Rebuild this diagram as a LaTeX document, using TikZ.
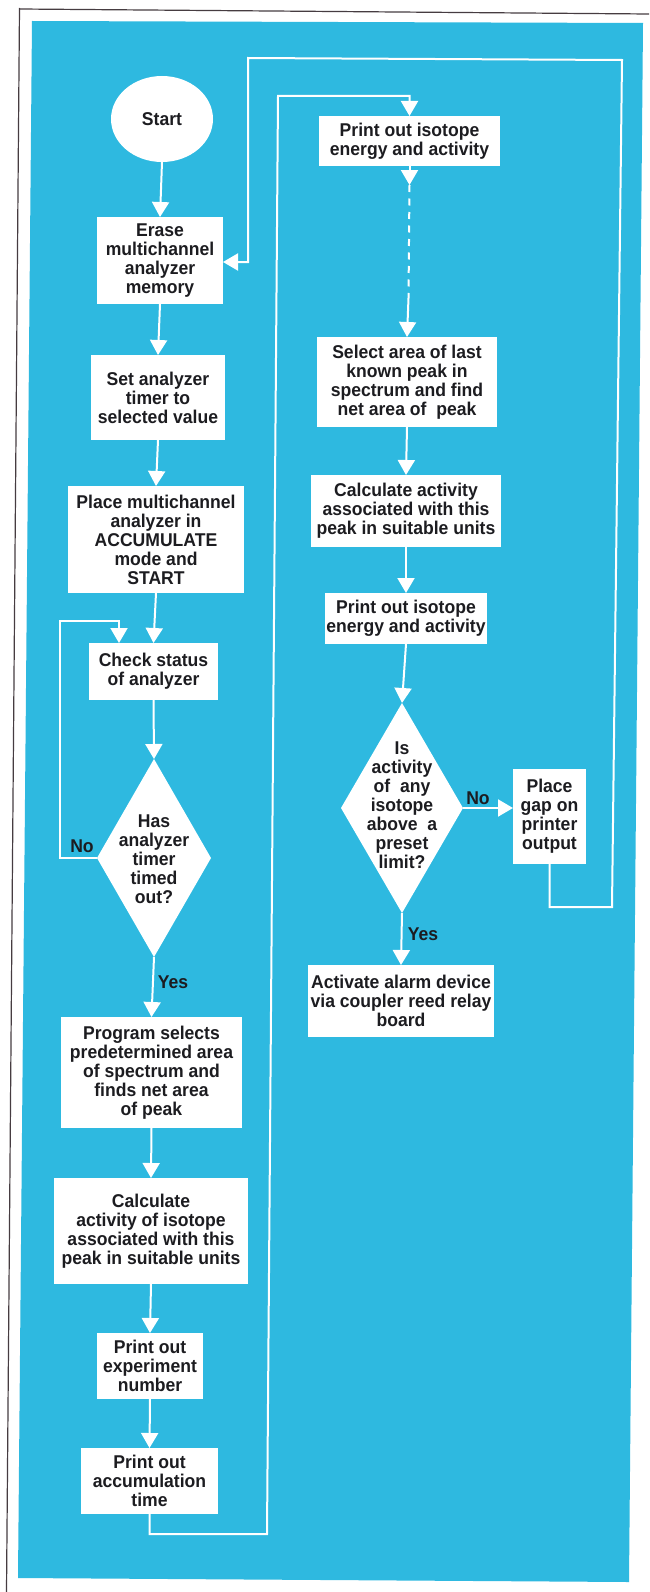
\documentclass[tikz,border=0pt]{standalone}
\usepackage{fontspec}
\setmainfont{Liberation Sans}[FakeStretch=0.95]
\usetikzlibrary{arrows.meta,shapes.geometric}
\definecolor{bg}{RGB}{46,185,224}
\definecolor{ink}{RGB}{28,28,32}
\definecolor{frame}{RGB}{70,60,65}
\newcommand{\dfont}{\bfseries\fontsize{18.5}{19}\selectfont}
\begin{document}
\begin{tikzpicture}[x=1pt,y=-1pt,
  box/.style={rectangle, fill=white, inner sep=0pt, outer sep=0pt, align=center, text=ink, font=\dfont},
  startnode/.style={ellipse, fill=white, inner sep=0pt, outer sep=0pt, text=ink, font=\dfont},
  decision/.style={diamond, fill=white, inner sep=0pt, outer sep=0pt},
  lab/.style={text=ink, font=\dfont, inner sep=0pt, align=center},
  conn/.style={draw=white, line width=2pt, -{Triangle[width=17pt,length=15pt]}},
  plain/.style={draw=white, line width=2pt}]
\useasboundingbox (0,0) rectangle (649,1592);
\fill[white] (0,0) rectangle (649,1592);
\fill[bg] (32,21) -- (643,23) -- (629,1582) -- (18,1578) -- cycle;
\draw[frame, line width=1.2pt] (19.5,9) -- (649,14);
\draw[frame, line width=1.2pt] (19.5,8) -- (6.5,1592);

% left column
\node[startnode, minimum width=102pt, minimum height=86pt] (start) at (162,119) {Start};
\node[box, minimum width=126pt, minimum height=87pt] (erase) at (160,260.5) {Erase\\multichannel\\analyzer\\memory};
\node[box, minimum width=134pt, minimum height=85pt] (set) at (158,397.5) {Set analyzer\\timer to\\selected value};
\node[box, minimum width=176pt, minimum height=107pt] (place) at (156,539.5) {Place multichannel\\analyzer in\\ACCUMULATE\\mode and\\START};
\node[box, minimum width=129pt, minimum height=57pt] (check) at (153.5,671.5) {Check status\\of analyzer};
\node[decision, minimum width=114pt, minimum height=198pt] (dia1) at (154,858) {};
\node[lab] (dia1t) at (154,859) {Has\\analyzer\\timer\\timed\\out?};
\node[box, minimum width=181pt, minimum height=111pt] (program) at (151.5,1072.5) {Program selects\\predetermined area\\of spectrum and\\finds net area\\of peak};
\node[box, minimum width=194pt, minimum height=106pt] (calc1) at (151,1231) {Calculate\\activity of isotope\\associated with this\\peak in suitable units};
\node[box, minimum width=106pt, minimum height=66pt] (exper) at (150,1366) {Print out\\experiment\\number};
\node[box, minimum width=137pt, minimum height=66pt] (accum) at (149.5,1481) {Print out\\accumulation\\time};

% right column
\node[box, minimum width=181pt, minimum height=50pt] (print1) at (409.5,141) {Print out isotope\\energy and activity};
\node[box, minimum width=180pt, minimum height=90pt] (select) at (407,382) {Select area of last\\known peak in\\spectrum and find\\net area of \ peak};
\node[box, minimum width=190pt, minimum height=72pt] (calc2) at (406,511) {Calculate activity\\associated with this\\peak in suitable units};
\node[box, minimum width=162pt, minimum height=51pt] (print2) at (406,618.5) {Print out isotope\\energy and activity};
\node[decision, minimum width=122pt, minimum height=210pt] (dia2) at (402,808) {};
\node[lab] (dia2t) at (402,805) {Is\\activity\\of \ any\\isotope\\above \ a\\preset\\limit?};
\node[box, minimum width=73pt, minimum height=95pt] (gap) at (549.5,816.5) {Place\\gap on\\printer\\output};
\node[box, minimum width=186pt, minimum height=72pt] (alarm) at (401,1001) {Activate alarm device\\via coupler reed relay\\board};

% connectors left column
\draw[conn] (start.south) -- (erase.north);
\draw[conn] (erase.south) -- (set.north);
\draw[conn] (set.south) -- (place.north);
\draw[conn] (place.south) -- (check.north);
\draw[conn] (check.south) -- (dia1.north);
\coordinate (n1) at (60,621);
\draw[conn] (dia1.west) -| (n1) -| ([xshift=30pt]check.north west);
\node[lab] (no1) at (82,846) {No};
\draw[conn] (dia1.south) -- (program.north);
\node[lab] (yes1) at (173,982) {Yes};
\draw[conn] (program.south) -- (calc1.north);
\draw[conn] (calc1.south) -- (exper.north);
\draw[conn] (exper.south) -- (accum.north);

% loop from accumulation time to first print
\coordinate (r2) at (267,1534);
\coordinate (r3) at (278,96);
\draw[conn] (accum.south) |- (r2) -- (r3) -| (print1.north);

% dashed continuation
\coordinate (d1) at (409.5,185);
\coordinate (d2) at (408.5,298);
\draw[conn] (print1.south) -- (d1);
\draw[plain, dash pattern=on 7pt off 6.5pt] (d1) -- (d2);
\draw[conn] (d2) -- (select.north);

% right column connectors
\draw[conn] (select.south) -- (calc2.north);
\draw[conn] (calc2.south) -- (print2.north);
\draw[conn] (print2.south) -- (dia2.north);
\draw[conn] (dia2.east) -- (dia2.east -| gap.west);
\node[lab] (no2) at (478,798) {No};
\draw[conn] (dia2.south) -- (alarm.north);
\node[lab] (yes2) at (423,934) {Yes};

% loop from gap back to erase
\coordinate (s2) at (612,907);
\coordinate (s3) at (622,60);
\coordinate (s4) at (248,58);
\coordinate (s5) at (248,262);
\draw[conn] (gap.south) |- (s2) -- (s3) -- (s4) -- (s5) -- (s5 -| erase.east);
\end{tikzpicture}
\end{document}
